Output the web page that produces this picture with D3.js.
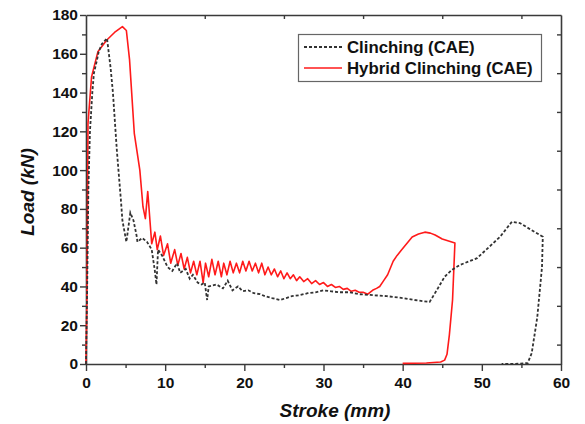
<!DOCTYPE html>
<html><head><meta charset="utf-8">
<script src="https://cdn.jsdelivr.net/npm/d3@7"></script>
<style>body{margin:0;background:#fff}svg{display:block}</style>
</head><body>
<script>
const xTicks = [0, 10, 20, 30, 40, 50, 60];
const yTicks = [0, 20, 40, 60, 80, 100, 120, 140, 160, 180];
const seriesNames = ["Clinching (CAE)", "Hybrid Clinching (CAE)"];

const clinchX = [0,0.15,0.3,0.5,0.8,1.0,1.4,1.6,2.0,2.65,3.1,3.4,3.9,4.4,4.6,5.1,5.6,6.0,6.4,6.5,7.1,7.7,8.3,8.7,8.9,9.1,9.6,10.3,10.9,11.5,11.9,12.6,13.1,13.5,14.1,14.6,15.0,15.3,15.5,16.5,17.3,17.9,18.5,19.2,19.8,20.5,21.2,22,22.6,23.5,24.5,25.3,26,27,28,29,30,31,32,33.3,34.5,35.9,38,40,41.5,43.4,44.3,45.3,46.2,47.2,49.4,52.3,53.8,54.8,57.7,57.6,57,56.3,55.8,54,52.5];
const clinchY = [0,40,90,120,140,150,157,161,165,168,153,140,110,85,74,63,78,74,66,63,65,63,59,48,41,59,56,50,48,52,47,49,44,46,42,41,42,33,40,41,39,43,38,40,37.5,38,36.5,36,35,34,33,34,35,35.5,36.5,37,38,37.5,37,37,36,35.6,35,34,33,32,38,45,48.5,51,54.6,65.6,73.4,72.7,65.6,50,24,5.6,0.5,0,0];

const hybridX = [0,0.1,0.2,0.25,0.7,1.5,2.6,3.6,4.6,5.1,5.5,6.1,6.8,7.2,7.5,7.8,8.3,8.7,9.0,9.4,9.8,10.3,10.7,11.2,11.6,12.0,12.4,12.8,13.2,13.6,14.0,14.4,14.8,15.1,15.5,15.9,16.3,16.7,17.1,17.4,17.8,18.2,18.6,19.0,19.4,19.8,20.2,20.6,21.0,21.4,21.8,22.2,22.6,23.0,23.4,23.8,24.2,24.6,25.0,25.4,25.8,26.2,26.6,27,27.5,28,28.5,29,29.5,30,30.5,31,31.5,32,32.5,33,33.5,34,34.5,35,35.6,36.2,36.7,37.1,37.6,38.1,38.8,39.3,39.9,40.5,41.2,42,42.8,43.5,44.1,45,46.6,46.3,45.9,45.6,45.3,44.8,43,40];
const hybridY = [0,30,80,124,148,161,167,171,174,172,157,119,100,81,75,89,62,68,59,66,56,62,52,59,51,57,49,55,47,53,46,53,42,52,45,54,46,53,45,52,46,53,47,52,47,53,48,53,48,52,47,52,46,50,46,49,45,48,44,47,44,46,43,45,42.5,44,41.5,43,41,42,40,41,39.5,40,38.5,39,37.5,38,37,37,36,38,39,40,43,46,53,56,59,62,65.5,67,68,67.5,66.5,64.5,62.4,33,15,5,2,1,0.5,0.3];

const W = 585, H = 424;
const L = 86, R = 561, T = 15, B = 364;
const svg = d3.select("body").append("svg").attr("width", W).attr("height", H);
const x = d3.scaleLinear().domain([0, 60]).range([L, R]);
const y = d3.scaleLinear().domain([0, 180]).range([B, T]);
const axisColor = "#3a3a3a";
const tickFont = "'Liberation Sans', Arial, sans-serif";

const xMinor = d3.range(5, 60, 10);
const yMinor = d3.range(10, 180, 20);

function styleAxis(g) {
  g.selectAll("path.domain").attr("stroke", axisColor).attr("stroke-width", 1.6);
  g.selectAll(".tick line").attr("stroke", axisColor).attr("stroke-width", 1.4);
  g.selectAll(".tick text").attr("fill", "#111").attr("font-family", tickFont)
    .attr("font-weight", "bold").attr("font-size", "15.5px");
}

const gx = svg.append("g").attr("transform", `translate(0,${B})`)
  .call(d3.axisBottom(x).tickValues(xTicks).tickFormat(d3.format("d")).tickSize(7).tickPadding(6).tickSizeOuter(0));
styleAxis(gx);
svg.append("g").attr("transform", `translate(0,${B})`)
  .call(d3.axisBottom(x).tickValues(xMinor).tickFormat("").tickSize(4).tickSizeOuter(0))
  .call(g => { g.select("path.domain").remove(); g.selectAll("line").attr("stroke", axisColor).attr("stroke-width", 1.4); });

const gy = svg.append("g").attr("transform", `translate(${L},0)`)
  .call(d3.axisLeft(y).tickValues(yTicks).tickFormat(d3.format("d")).tickSize(6).tickPadding(2).tickSizeOuter(0));
styleAxis(gy);
svg.append("g").attr("transform", `translate(${L},0)`)
  .call(d3.axisLeft(y).tickValues(yMinor).tickFormat("").tickSize(4).tickSizeOuter(0))
  .call(g => { g.select("path.domain").remove(); g.selectAll("line").attr("stroke", axisColor).attr("stroke-width", 1.4); });

svg.append("g").attr("transform", `translate(0,${T})`)
  .call(d3.axisTop(x).tickValues(xMinor).tickFormat("").tickSize(-4).tickSizeOuter(0))
  .call(g => { g.select("path.domain").attr("stroke", axisColor).attr("stroke-width", 1.6); g.selectAll("line").attr("stroke", axisColor).attr("stroke-width", 1.4); });
svg.append("g").attr("transform", `translate(${R},0)`)
  .call(d3.axisRight(y).tickValues(yMinor).tickFormat("").tickSize(-4).tickSizeOuter(0))
  .call(g => { g.select("path.domain").attr("stroke", axisColor).attr("stroke-width", 1.6); g.selectAll("line").attr("stroke", axisColor).attr("stroke-width", 1.4); });

const line = d3.line().x(d => x(d[0])).y(d => y(d[1]));
const clinch = clinchX.map((v, i) => [v, clinchY[i]]);
const hybrid = hybridX.map((v, i) => [v, hybridY[i]]);

svg.append("path").datum(hybrid).attr("d", line).attr("fill", "none")
  .attr("stroke", "#ff1a1a").attr("stroke-width", 1.6).attr("stroke-linejoin", "round");
svg.append("path").datum(clinch).attr("d", line).attr("fill", "none")
  .attr("stroke", "#333").attr("stroke-width", 1.8).attr("stroke-dasharray", "3,2");

svg.append("text").attr("x", 335).attr("y", 417).attr("text-anchor", "middle")
  .attr("font-family", tickFont).attr("font-weight", "bold").attr("font-style", "italic")
  .attr("font-size", "19px").attr("fill", "#111").text("Stroke (mm)");
svg.append("text").attr("transform", "translate(34,192) rotate(-90)").attr("text-anchor", "middle")
  .attr("font-family", tickFont).attr("font-weight", "bold").attr("font-style", "italic")
  .attr("font-size", "19px").attr("fill", "#111").text("Load (kN)");

const lg = svg.append("g");
lg.append("rect").attr("x", 298.5).attr("y", 34.5).attr("width", 243).attr("height", 47)
  .attr("fill", "#fff").attr("stroke", "#666").attr("stroke-width", 1.2);
const legendStyles = [
  {stroke: "#333", dash: "3,2", w: 1.8},
  {stroke: "#ff1a1a", dash: null, w: 1.6}
];
seriesNames.forEach((name, i) => {
  const cy = 47 + i * 21;
  lg.append("line").attr("x1", 304).attr("x2", 342).attr("y1", cy).attr("y2", cy)
    .attr("stroke", legendStyles[i].stroke).attr("stroke-width", legendStyles[i].w)
    .attr("stroke-dasharray", legendStyles[i].dash);
  lg.append("text").attr("x", 347).attr("y", cy + 5.5)
    .attr("font-family", tickFont).attr("font-weight", "bold").attr("font-size", "16.8px")
    .attr("fill", "#111").text(name);
});
</script>
</body></html>
